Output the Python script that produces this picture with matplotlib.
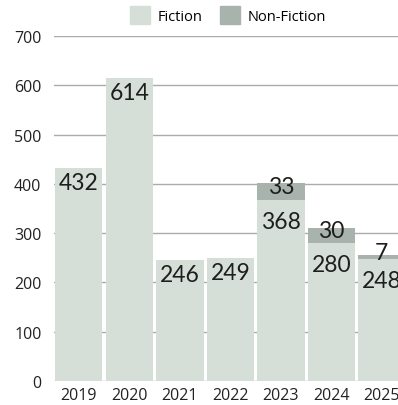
import matplotlib
matplotlib.use("Agg")
import matplotlib.pyplot as plt
from matplotlib.patches import Patch

years = ["2019", "2020", "2021", "2022", "2023", "2024", "2025"]
fiction = [432, 614, 246, 249, 368, 280, 248]
non_fiction = [0, 0, 0, 0, 33, 30, 7]

FIC_COLOR = "#d5dfd8"
NON_COLOR = "#a9b3ae"
TEXT = "#1e1e1e"

W, H = 398, 406
fig = plt.figure(figsize=(W / 100, H / 100), dpi=100)
ax = fig.add_axes([54 / W, 24 / H, (W - 54) / W, (382 - 37) / H])

x = list(range(len(years)))
width = 0.94
ax.bar(x, fiction, width=width, color=FIC_COLOR, zorder=2)
ax.bar(x, non_fiction, width=width, bottom=fiction, color=NON_COLOR, zorder=2)

ax.set_xlim(-0.49, 6.32)
ax.set_ylim(0, 700)
ax.set_yticks(range(0, 701, 100))
ax.set_xticks(x)
ax.set_xticklabels(years)
ax.grid(axis="y", color="#ababab", linewidth=1, zorder=0)
ax.set_axisbelow(True)
for s in ax.spines.values():
    s.set_visible(False)
ax.tick_params(axis="both", length=0, labelsize=11.5, labelcolor="#222222",
               pad=9)
ax.tick_params(axis="x", pad=4)
for lab in ax.get_xticklabels() + ax.get_yticklabels():
    lab.set_family(["Open Sans", "DejaVu Sans"])

label_font = dict(family=["Lato", "DejaVu Sans"], fontsize=16.5, color=TEXT)
px = 72 / 100  # points per pixel
for i in x:
    f, n = fiction[i], non_fiction[i]
    off = -11 if n else -4
    ax.annotate(str(f), (i, f), xytext=(0, off * px), textcoords="offset points",
                ha="center", va="top", zorder=3, **label_font)
    if n:
        ax.annotate(str(n), (i, f + n / 2), xytext=(0, 5 * px),
                    textcoords="offset points", ha="center", va="center",
                    zorder=3, **label_font)

handles = [Patch(color=FIC_COLOR, label="Fiction"),
           Patch(color=NON_COLOR, label="Non-Fiction")]
fig.legend(handles=handles, loc="upper center", bbox_to_anchor=(228 / W, 1.014),
           ncol=2, frameon=False, handlelength=1.4, handleheight=1.5,
           handletextpad=0.5, columnspacing=1.2,
           prop=dict(family=["Open Sans", "DejaVu Sans"], size=10.5))

fig.savefig("out.png", dpi=100)
